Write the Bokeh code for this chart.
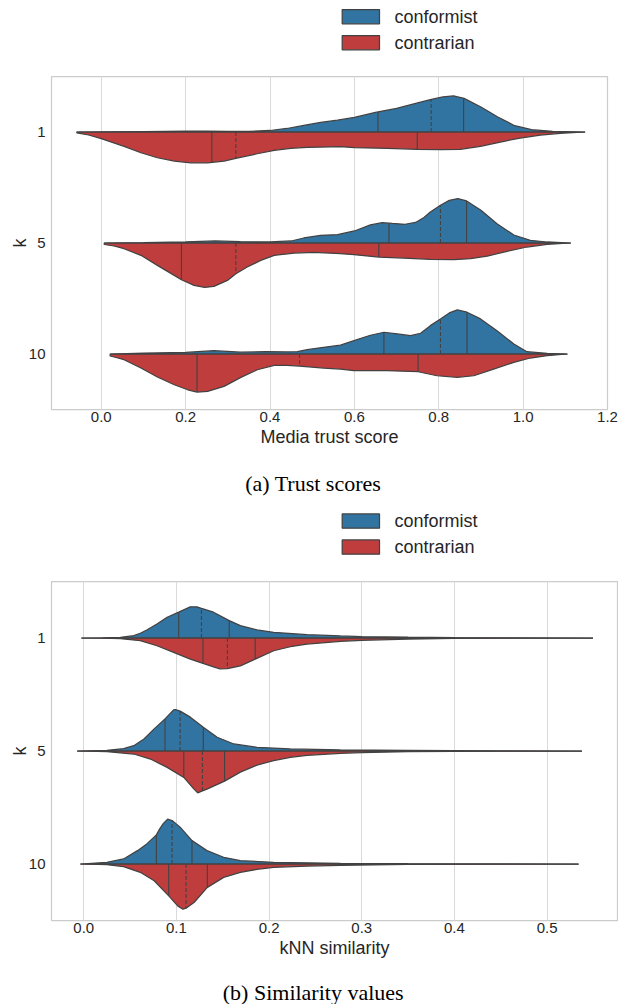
import numpy as np
from bokeh.plotting import figure
from bokeh.layouts import column, row
from bokeh.models import Range1d, FixedTicker, PrintfTickFormatter
from bokeh.core.properties import value
from bokeh.embed import file_html
from bokeh.resources import INLINE

# ---------------- data ----------------
K_LABELS = ["1", "5", "10"]
GROUPS = ["conformist", "contrarian"]

# (a) trust scores: density profiles (x, relative density) per k
TRUST_CONF_X = [
    [-0.058, 0.0, 0.1, 0.2, 0.25, 0.3, 0.35, 0.40, 0.44, 0.48, 0.52, 0.56, 0.60, 0.65, 0.70, 0.75, 0.78, 0.81, 0.835, 0.86, 0.90, 0.94, 0.98, 1.02, 1.07, 1.147],
    [0.007, 0.1, 0.2, 0.27, 0.33, 0.4, 0.45, 0.48, 0.52, 0.56, 0.60, 0.638, 0.666, 0.69, 0.72, 0.745, 0.765, 0.78, 0.804, 0.825, 0.845, 0.866, 0.90, 0.938, 0.978, 1.017, 1.057, 1.113],
    [0.021, 0.1, 0.2, 0.267, 0.33, 0.39, 0.44, 0.465, 0.488, 0.527, 0.567, 0.599, 0.638, 0.67, 0.702, 0.733, 0.757, 0.78, 0.804, 0.825, 0.844, 0.867, 0.899, 0.938, 0.978, 1.009, 1.057, 1.105],
]
TRUST_CONF_D = [
    [0, 0.2, 0.4, 0.8, 0.9, 0.7, 0.6, 1.5, 3.5, 6.5, 9.5, 11.8, 14.5, 19.5, 23.5, 29, 32.3, 35, 36, 33.5, 25, 15, 6.3, 2.3, 0.7, 0],
    [0, 0.3, 1.0, 2.0, 1.3, 1.0, 2.0, 5, 7.7, 8.3, 12, 18, 20.3, 19.5, 18.7, 20.5, 25.5, 31, 37.7, 42.5, 44.3, 42, 32.7, 19.3, 8, 2.7, 1, 0],
    [0, 0.8, 1.5, 3.3, 1.8, 2.3, 2.0, 2.3, 4.3, 6.7, 8.8, 13.3, 18.7, 21.7, 20, 18.3, 20.7, 28.3, 35, 41, 44, 41.7, 35, 23.3, 10, 2.3, 0.7, 0],
]
TRUST_CONTR_X = [
    [-0.058, -0.03, 0.0, 0.054, 0.094, 0.133, 0.173, 0.212, 0.252, 0.291, 0.319, 0.37, 0.41, 0.449, 0.488, 0.52, 0.567, 0.60, 0.678, 0.749, 0.804, 0.851, 0.899, 0.946, 0.993, 1.041, 1.088, 1.147],
    [0.007, 0.03, 0.054, 0.094, 0.133, 0.173, 0.19, 0.22, 0.245, 0.267, 0.299, 0.319, 0.346, 0.378, 0.41, 0.457, 0.504, 0.567, 0.599, 0.658, 0.717, 0.78, 0.836, 0.875, 0.915, 0.962, 1.009, 1.057, 1.113],
    [0.021, 0.035, 0.054, 0.094, 0.133, 0.173, 0.205, 0.227, 0.252, 0.291, 0.331, 0.37, 0.41, 0.44, 0.47, 0.527, 0.567, 0.599, 0.678, 0.751, 0.796, 0.844, 0.883, 0.93, 0.978, 1.017, 1.057, 1.105],
]
TRUST_CONTR_D = [
    [0.8, 3, 6.7, 14.3, 20.7, 25.7, 29, 30.7, 30.7, 29, 26.3, 21.7, 18.3, 16.3, 15.3, 15, 14.7, 15.7, 16.3, 17.3, 17.7, 17.3, 14.3, 10, 6, 3, 1.3, 0],
    [1.5, 3, 5.7, 12.3, 22.3, 32.3, 36.7, 42.3, 44.3, 43.3, 37.3, 30.7, 24, 17.3, 12.3, 10, 9.3, 10.7, 11.7, 14, 15, 16.3, 16.7, 15.7, 13, 8.3, 4, 1.3, 0],
    [2, 3.5, 5.7, 14, 23, 30.7, 35.7, 38, 37.3, 32.3, 23.3, 15.7, 11.3, 11.3, 12, 14, 15, 16.7, 16.7, 17.7, 21.7, 23.3, 21.7, 15, 8.3, 4, 1.7, 0],
]
# quartiles (Q1, median, Q3)
TRUST_CONF_Q = [[0.656, 0.782, 0.859], [0.682, 0.804, 0.866], [0.670, 0.804, 0.867]]
TRUST_CONTR_Q = [[0.262, 0.319, 0.749], [0.190, 0.319, 0.658], [0.227, 0.470, 0.751]]

# (b) similarity values
SIM_CONF_X = [
    [-0.0025, 0.02, 0.0396, 0.054, 0.061, 0.068, 0.079, 0.09, 0.1025, 0.115, 0.122, 0.127, 0.14, 0.157, 0.169, 0.187, 0.205, 0.241, 0.277, 0.3, 0.35, 0.4, 0.45, 0.5495],
    [-0.0071, 0.025, 0.043, 0.054, 0.065, 0.076, 0.0877, 0.097, 0.099, 0.104, 0.115, 0.129, 0.144, 0.162, 0.187, 0.223, 0.277, 0.35, 0.45, 0.5376],
    [-0.0036, 0.025, 0.043, 0.058, 0.068, 0.0784, 0.082, 0.086, 0.0905, 0.0953, 0.104, 0.1168, 0.133, 0.151, 0.169, 0.205, 0.277, 0.35, 0.534],
]
SIM_CONF_D = [
    [0, 0.2, 0.7, 2.3, 4.7, 8, 14, 20.7, 25.7, 31, 31, 29.5, 25.7, 17.3, 12.3, 8, 5.7, 3.3, 2, 1.3, 0.8, 0.4, 0.15, 0],
    [0, 0.7, 2.3, 5.3, 12, 22, 32, 41, 41.3, 39.7, 33.7, 23.7, 13.7, 7, 3.7, 2, 1, 0.5, 0.15, 0],
    [0, 1.7, 5, 13.3, 20, 29, 35, 40.5, 44.7, 43.3, 36.7, 23.3, 13.3, 6.7, 3.3, 1.7, 0.7, 0.3, 0],
]
SIM_CONTR_X = [
    [-0.0025, 0.02, 0.0396, 0.061, 0.079, 0.097, 0.115, 0.1287, 0.14, 0.147, 0.155, 0.169, 0.185, 0.205, 0.223, 0.241, 0.277, 0.3, 0.35, 0.4, 0.5, 0.5495],
    [-0.0071, 0.025, 0.054, 0.072, 0.09, 0.108, 0.119, 0.123, 0.128, 0.133, 0.14, 0.152, 0.169, 0.187, 0.205, 0.223, 0.241, 0.277, 0.3, 0.35, 0.4, 0.5376],
    [-0.0036, 0.025, 0.043, 0.061, 0.076, 0.0917, 0.1014, 0.107, 0.1104, 0.119, 0.1334, 0.151, 0.169, 0.187, 0.205, 0.241, 0.277, 0.35, 0.534],
]
SIM_CONTR_D = [
    [0, 0.2, 0.7, 2.7, 7.7, 14.3, 21, 25.3, 28.7, 30.7, 30.5, 27.7, 21, 12.7, 8.7, 6, 3.3, 2.3, 1, 0.4, 0.1, 0],
    [0, 0.7, 3, 8, 16.3, 26.3, 38, 41.7, 39.7, 38, 35, 30, 21, 14, 9.5, 6.3, 4.3, 2.3, 1.5, 0.7, 0.3, 0],
    [0, 0.7, 2.7, 8.3, 16.7, 31.7, 41.7, 45, 44, 38.3, 23.3, 13.3, 8.3, 5.3, 3.3, 2, 1.3, 0.4, 0],
]
SIM_CONF_Q = [[0.1025, 0.127, 0.157], [0.0877, 0.104, 0.129], [0.0784, 0.0953, 0.1168]]
SIM_CONTR_Q = [[0.1287, 0.155, 0.185], [0.108, 0.128, 0.152], [0.0917, 0.1104, 0.1334]]

TRUST_TICKS = [0.0, 0.2, 0.4, 0.6, 0.8, 1.0, 1.2]
SIM_TICKS = [0.0, 0.1, 0.2, 0.3, 0.4, 0.5]
CAPTIONS = ["(a) Trust scores", "(b) Similarity values"]

# ---------------- styling ----------------
BLUE = "#3274a1"
RED = "#c03d3e"
EDGE = "#424242"
TXT = "#262626"
FONT = "Liberation Sans"
SERIF = "Liberation Serif"
HALF = 0.4
W = 618


def text_strip(height):
    """A figure with no axes whose data units are canvas pixels (y downwards)."""
    f = figure(width=W, height=height, x_range=Range1d(0, W), y_range=Range1d(height, 0),
               output_backend="svg", toolbar_location=None, title=None,
               x_axis_type=None, y_axis_type=None, min_border=0)
    f.min_border_left = f.min_border_right = f.min_border_top = f.min_border_bottom = 0
    f.grid.visible = False
    f.outline_line_color = None
    f.background_fill_color = "white"
    f.border_fill_color = "white"
    return f


def draw_legend(f, top):
    for j, (g, col) in enumerate(zip(GROUPS, (BLUE, RED))):
        t = top + 26 * j
        f.quad(left=[341.7], right=[379], top=[t], bottom=[t + 14.3],
               fill_color=col, line_color=EDGE, line_width=1.25)
        f.text(x=[394], y=[t + 7.3], text=[g], text_font=value(FONT),
               text_font_size=value("18px"), text_color=TXT,
               text_baseline="middle", text_align="left")


def draw_caption(f, y, txt):
    f.text(x=[312.7], y=[y], text=[txt], text_font=value(SERIF),
           text_font_size=value("22px"), text_color="black",
           text_baseline="middle", text_align="center")


def make_panel(xr, ticks, xlabel, height, mb_top, mb_bottom, mb_right,
               cx, cd, rx, rd, cq, rq):
    p = figure(width=W, height=height, x_range=Range1d(*xr),
               y_range=Range1d(2.5, -0.5), output_backend="svg",
               toolbar_location=None, title=None,
               min_border_left=51, min_border_right=mb_right,
               min_border_top=mb_top, min_border_bottom=mb_bottom)
    p.background_fill_color = "white"
    p.border_fill_color = "white"
    p.outline_line_color = "#cccccc"
    p.outline_line_width = 1.25
    p.ygrid.visible = False
    p.xgrid.grid_line_color = "#dadada"
    p.xgrid.grid_line_width = 1

    p.xaxis.ticker = FixedTicker(ticks=ticks)
    p.xaxis.formatter = PrintfTickFormatter(format="%.1f")
    p.yaxis.ticker = FixedTicker(ticks=list(range(len(K_LABELS))))
    p.yaxis.major_label_overrides = {i: k for i, k in enumerate(K_LABELS)}
    for ax in (p.xaxis, p.yaxis):
        ax.axis_line_color = None
        ax.major_tick_line_color = None
        ax.minor_tick_line_color = None
        ax.major_tick_out = 0
        ax.major_tick_in = 0
        ax.major_label_text_font = FONT
        ax.major_label_text_font_size = "15px"
        ax.major_label_text_color = TXT
        ax.axis_label_text_font = FONT
        ax.axis_label_text_font_size = "18px"
        ax.axis_label_text_font_style = "normal"
        ax.axis_label_text_color = TXT
    p.xaxis.axis_label = xlabel
    p.xaxis.major_label_standoff = 2
    p.xaxis.axis_label_standoff = 2
    p.yaxis.axis_label = "k"
    p.yaxis.major_label_standoff = 6
    p.yaxis.axis_label_standoff = -4

    dmax = max(max(max(d) for d in cd), max(max(d) for d in rd))
    for i in range(len(K_LABELS)):
        for sign, xs, ds, qs, col in ((-1, cx[i], cd[i], cq[i], BLUE),
                                      (1, rx[i], rd[i], rq[i], RED)):
            x = np.array(xs, dtype=float)
            d = np.array(ds, dtype=float)
            w = HALF * d / dmax
            px = np.concatenate([x, x[::-1]])
            py = np.concatenate([i + sign * w, np.full(len(x), float(i))])
            p.patch(px, py, fill_color=col, line_color=EDGE, line_width=1.25)
            for j, q in enumerate(qs):
                wq = HALF * np.interp(q, x, d) / dmax
                p.segment(x0=[q], y0=[i], x1=[q], y1=[i + sign * wq],
                          line_color=EDGE, line_width=1.1,
                          line_dash=value("4 2") if j == 1 else value("1.3 1.7"))
    return p


# top strip: legend of panel (a)            page y 0..60
top = text_strip(60)
draw_legend(top, 9)

# panel (a)                                  page y 60..455
p1 = make_panel((-0.118, 1.2), TRUST_TICKS, "Media trust score", 395, 16, 46, 11,
                TRUST_CONF_X, TRUST_CONF_D, TRUST_CONTR_X, TRUST_CONTR_D,
                TRUST_CONF_Q, TRUST_CONTR_Q)

# middle strip: caption (a) + legend (b)     page y 455..570
mid = text_strip(115)
draw_caption(mid, 27.7, CAPTIONS[0])
draw_legend(mid, 58.4)

# panel (b)                                  page y 570..966
p2 = make_panel((-0.0348, 0.576), SIM_TICKS, "kNN similarity", 396, 11, 46, 1,
                SIM_CONF_X, SIM_CONF_D, SIM_CONTR_X, SIM_CONTR_D,
                SIM_CONF_Q, SIM_CONTR_Q)

# bottom strip: caption (b)                  page y 966..1004
bot = text_strip(38)
draw_caption(bot, 26, CAPTIONS[1])

layout = column(row(top), row(p1), row(mid), row(p2), row(bot), spacing=0)
open("out.html", "w").write(file_html(layout, INLINE))
